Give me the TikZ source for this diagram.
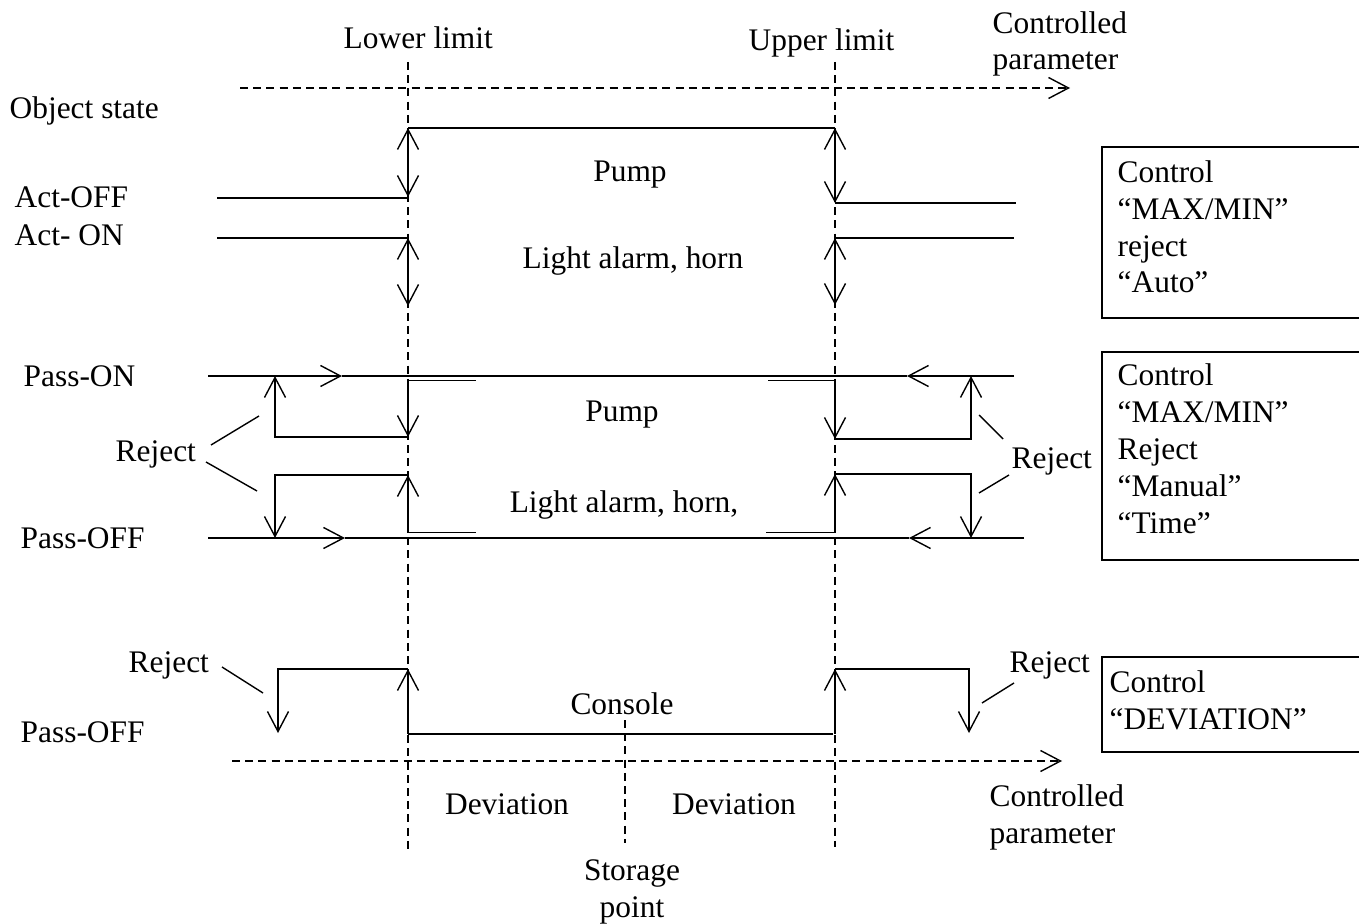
\documentclass[tikz,border=0pt]{standalone}
\usepackage{fontspec}
\setmainfont{Liberation Serif}
\usetikzlibrary{arrows.meta}

\begin{document}
\begin{tikzpicture}[x=0.5pt,y=-0.5pt,line width=0.7pt,
    >={Straight Barb[length=10pt,width=10.5pt]},
    txt/.style={inner sep=0pt,font=\fontsize{15.7pt}{18.4pt}\selectfont},
    limit/.style={dash pattern=on 4pt off 2.6pt},
    dbl/.style={line width=0.5pt}]
    \useasboundingbox (0,0) rectangle (1359,924);

    % draw limits and parameter axes
    \draw[limit] (408,62) -- (408,850);
    \draw[limit] (835,62) -- (835,847);
    \draw[limit] (625,720) -- (625,843);
    \draw[limit,->] (240,88) -- (1070,88);
    \draw[limit,->] (232,761) -- (1062,761);

    % draw labels on top (multi-line nodes sit on their last line)
    \node[txt,anchor=base west] (lowlim) at (343,49) {Lower limit};
    \node[txt,anchor=base west] (uplim) at (748,51) {Upper limit};
    \node[txt,anchor=base west,align=left] (partop) at (992,70) {Controlled\\parameter};
    \node[txt,anchor=base west] (objst) at (9,119) {Object state};

    % active protection
    \node[txt,anchor=base west] (actoff) at (14,208) {Act-OFF};
    \node[txt,anchor=base west] (acton) at (14,246) {Act- ON};
    \draw (408,128) -- (835,128);
    \draw[<->] (408,128) -- (408,197);
    \draw (217,198) -- (408,198);
    \draw (217,238) -- (408,238);
    \draw[<->] (408,238) -- (408,306);
    \draw[<->] (835,128) -- (835,203);
    \draw (835,203) -- (1016,203);
    \draw (835,238) -- (1014,238);
    \draw[<->] (835,238) -- (835,305);
    \node[txt,anchor=base] (pumpA) at (630,182) {Pump};
    \node[txt,anchor=base] (alarmA) at (633,269) {Light alarm, horn};

    % passive protection
    \node[txt,anchor=base west] (passon) at (23,387) {Pass-ON};
    \node[txt,anchor=base west] (passoff) at (20,548) {Pass-OFF};
    \draw[->] (208,376) -- (342,376);
    \draw (342,376) -- (907,376);
    \draw[->] (1014,376) -- (907,376);
    \draw[->] (208,538) -- (345,538);
    \draw (345,538) -- (909,538);
    \draw[->] (1024,538) -- (909,538);
    \draw[dbl] (409,381) -- (476,381);
    \draw[dbl] (768,381) -- (835,381);
    \draw[dbl] (409,533) -- (476,533);
    \draw[dbl] (766,533) -- (835,533);
    \draw[->] (408,381) -- (408,437);
    \draw[->] (408,437) -- (275,437) -- (275,376);
    \draw[->] (408,533) -- (408,475);
    \draw[->] (408,475) -- (275,475) -- (275,538);
    \draw[->] (835,381) -- (835,439);
    \draw[->] (835,439) -- (971,439) -- (971,376);
    \draw[->] (835,533) -- (835,474);
    \draw[->] (835,474) -- (971,474) -- (971,538);
    \node[txt,anchor=base] (pumpB) at (622,422) {Pump};
    \node[txt,anchor=base] (alarmB) at (624,513) {Light alarm, horn,};
    \node[txt,anchor=base west] (rejL) at (115,462) {Reject};
    \draw (211,445) -- (259,416);
    \draw (206,462) -- (257,491);
    \node[txt,anchor=base west] (rejR) at (1011,469) {Reject};
    \draw (979,415) -- (1003,439);
    \draw (1009,475) -- (979,493);

    % deviation control
    \node[txt,anchor=base west] (rejDL) at (128,672) {Reject};
    \node[txt,anchor=base west] (passoffD) at (20,742) {Pass-OFF};
    \draw (222,667) -- (263,693);
    \draw[->] (408,734) -- (408,669);
    \draw[->] (408,669) -- (278,669) -- (278,733);
    \draw (408,734) -- (833,734);
    \draw[->] (835,734) -- (835,669);
    \draw[->] (835,669) -- (969,669) -- (969,733);
    \node[txt,anchor=base west] (rejDR) at (1009,672) {Reject};
    \draw (1014,683) -- (982,703);
    \node[txt,anchor=base] (console) at (622,714) {Console};
    \node[txt,anchor=base] (devL) at (507,814) {Deviation};
    \node[txt,anchor=base] (devR) at (734,814) {Deviation};
    \node[txt,anchor=base,align=center] (storage) at (632,917) {Storage\\point};
    \node[txt,anchor=base west,align=left] (parbot) at (989,843) {Controlled\\parameter};

    % control boxes
    \draw (1102,147) rectangle (1375,318);
    \draw (1102,352) rectangle (1375,560);
    \draw (1102,657) rectangle (1375,752);
    \node[txt,anchor=base west,align=left] (ctlauto) at (1117,293) {Control\\“MAX/MIN”\\reject\\“Auto”};
    \node[txt,anchor=base west,align=left] (ctlman) at (1117,533) {Control\\“MAX/MIN”\\Reject\\“Manual”\\“Time”};
    \node[txt,anchor=base west,align=left] (ctldev) at (1109,729) {Control\\“DEVIATION”};
\end{tikzpicture}
\end{document}
